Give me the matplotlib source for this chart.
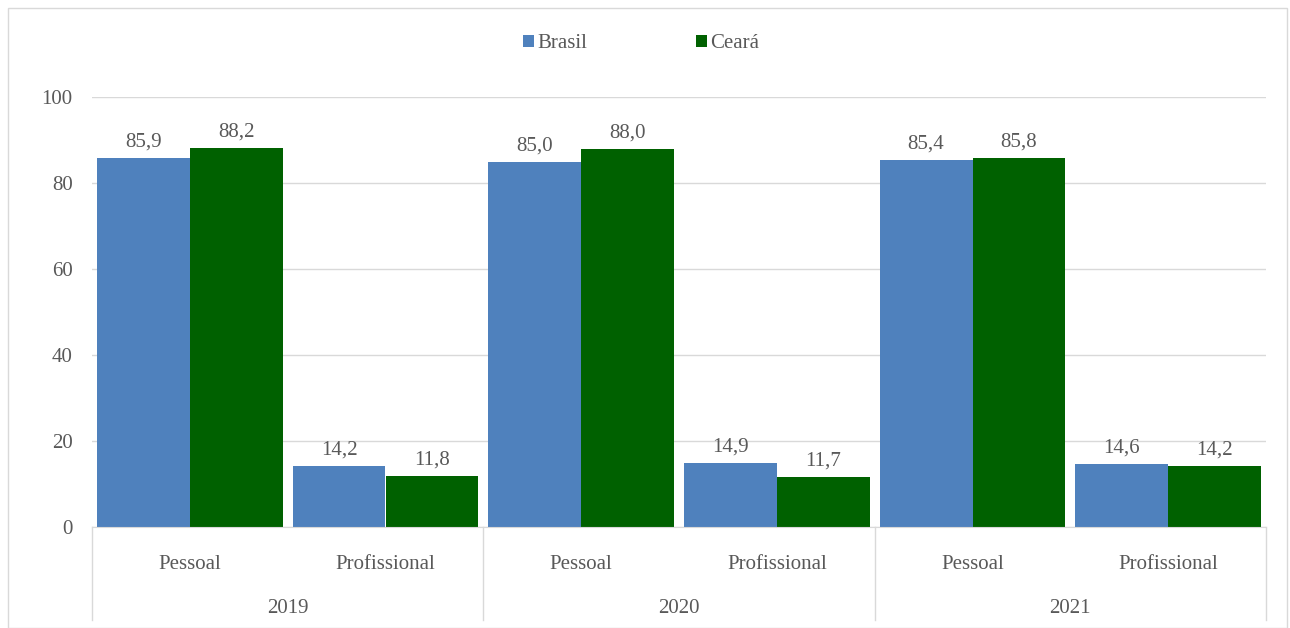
import matplotlib.pyplot as plt
import matplotlib.transforms as mtransforms
from matplotlib.patches import Rectangle
import numpy as np

plt.rcParams['font.family'] = ['Liberation Serif', 'DejaVu Serif']

years = ["2019", "2020", "2021"]
categorias = ["Pessoal", "Profissional"]
brasil = [85.9, 14.2, 85.0, 14.9, 85.4, 14.6]
ceara = [88.2, 11.8, 88.0, 11.7, 85.8, 14.2]

cor_brasil = "#4f81bd"
cor_ceara = "#006100"
cinza = "#595959"

fig = plt.figure(figsize=(12.9, 6.28), dpi=100)
ax = fig.add_axes([92 / 1290, 101 / 628, 1174 / 1290, 430 / 628])

x = np.arange(len(brasil))
w = 0.475
b1 = ax.bar(x - w / 2, brasil, w, color=cor_brasil, label="Brasil")
b2 = ax.bar(x + w / 2, ceara, w, color=cor_ceara, label="Ceará")

for bars in (b1, b2):
    for r in bars:
        v = r.get_height()
        ax.text(r.get_x() + r.get_width() / 2, v + 1.5, f"{v:.1f}".replace(".", ","),
                ha="center", va="bottom", fontsize=15, color=cinza)

ax.set_xlim(-0.5, len(brasil) - 0.5)
ax.set_ylim(0, 100)
ax.set_yticks(range(0, 101, 20))
ax.tick_params(axis="y", length=0, labelsize=15, labelcolor=cinza, pad=14)
ax.grid(axis="y", color="#d9d9d9", linewidth=1)
ax.set_axisbelow(True)
for s in ["top", "right", "left"]:
    ax.spines[s].set_visible(False)
ax.spines["bottom"].set_color("#d9d9d9")

# two-level category axis
ax.set_xticks(x)
ax.set_xticklabels(categorias * len(years))
ax.tick_params(axis="x", length=0, labelsize=15, labelcolor=cinza, pad=20)
trans = mtransforms.blended_transform_factory(ax.transData, ax.transAxes)
for i, ano in enumerate(years):
    ax.text(2 * i + 0.5, -0.19, ano, transform=trans, ha="center", va="center",
            fontsize=15, color=cinza)
for sep in np.arange(-0.5, len(brasil), 2):
    ax.plot([sep, sep], [0, -0.216], transform=trans, color="#d9d9d9",
            linewidth=1, clip_on=False)

fig.legend(handles=[b1, b2], loc="center", bbox_to_anchor=(0.497, 1 - 44 / 628),
           ncol=2, frameon=False, fontsize=15, labelcolor=cinza,
           handlelength=0.55, handleheight=0.55, handletextpad=0.15, columnspacing=5.2)

fig.patches.append(Rectangle((8 / 1290, 0), 1279 / 1290, 620 / 628,
                             transform=fig.transFigure, fill=False,
                             edgecolor="#d9d9d9", linewidth=1))

fig.savefig("out.png", dpi=100)
